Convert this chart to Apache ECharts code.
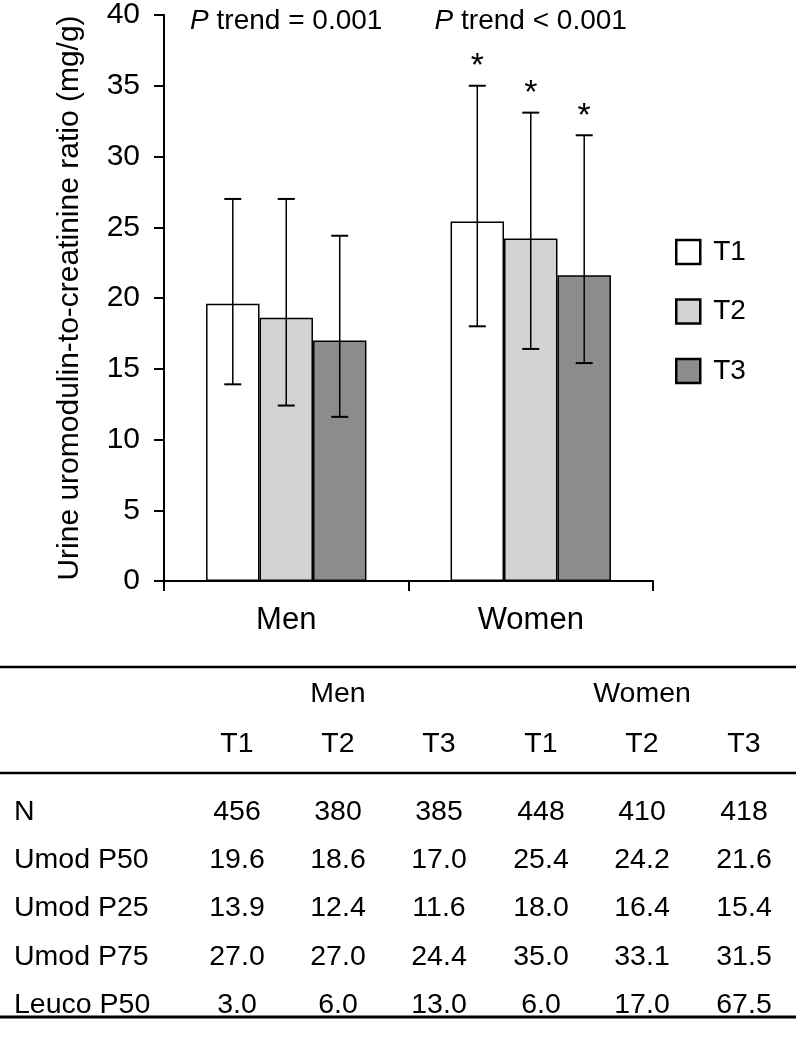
<!DOCTYPE html>
<html><head><meta charset="utf-8">
<script src="https://cdn.jsdelivr.net/npm/echarts@6/dist/echarts.min.js"></script>
<style>html,body{margin:0;padding:0;background:#fff}#c{width:796px;height:1040px}</style>
</head><body><div id="c"></div>
<script>
// ---- data ----
const categories = ['Men', 'Women'];
const tertiles = ['T1', 'T2', 'T3'];
// values per tertile: [Men, Women]
const p50 = [[19.6, 25.4], [18.6, 24.2], [17.0, 21.6]];
const p25 = [[13.9, 18.0], [12.4, 16.4], [11.6, 15.4]];
const p75 = [[27.0, 35.0], [27.0, 33.1], [24.4, 31.5]];
const nCounts = [[456, 448], [380, 410], [385, 418]];
const leucoP50 = [[3.0, 6.0], [6.0, 17.0], [13.0, 67.5]];
const significant = [[false, true], [false, true], [false, true]];
const pTrend = ['= 0.001', '< 0.001'];
const yMin = 0, yMax = 40, yInterval = 5;
const yAxisTitle = 'Urine uromodulin-to-creatinine ratio (mg/g)';
const tableRowLabels = ['N', 'Umod P50', 'Umod P25', 'Umod P75', 'Leuco P50'];
const tableRowData = [nCounts, p50, p25, p75, leucoP50];
const tableRowDecimals = [0, 1, 1, 1, 1];

// ---- style ----
const FONT = '"Liberation Sans", Arial, sans-serif';
const TFONT = '"Liberation Sans", Arial, sans-serif';
const barColors = ['#ffffff', '#d3d3d3', '#8c8c8c'];
const GAP = 0.344;

const chart = echarts.init(document.getElementById('c'), null, {renderer: 'canvas'});

const barSeries = tertiles.map((t, i) => ({
  name: t, type: 'bar', data: p50[i],
  barGap: '0%', barCategoryGap: (GAP * 100) + '%',
  itemStyle: {color: barColors[i], borderColor: '#000', borderWidth: 1.5},
  z: 2
}));

const errData = [];
tertiles.forEach((t, ti) => categories.forEach((c, ci) => {
  errData.push([ci, ti, p25[ti][ci], p75[ti][ci], significant[ti][ci] ? 1 : 0]);
}));

const errSeries = {
  type: 'custom', name: 'err', z: 5, silent: true,
  encode: {x: 0, y: [2, 3]},
  data: errData,
  renderItem: function (params, api) {
    const ci = api.value(0), ti = api.value(1);
    const lo = api.coord([ci, api.value(2)]);
    const hi = api.coord([ci, api.value(3)]);
    const band = api.size([1, 0])[0];
    const groupW = band * (1 - GAP);
    const bw = groupW / 3;
    const x = lo[0] - groupW / 2 + bw * (ti + 0.5);
    const cap = 8.5;
    const children = [
      {type: 'line', shape: {x1: x, y1: lo[1], x2: x, y2: hi[1]}, style: {stroke: '#000', lineWidth: 1.5}},
      {type: 'line', shape: {x1: x - cap, y1: hi[1], x2: x + cap, y2: hi[1]}, style: {stroke: '#000', lineWidth: 2}},
      {type: 'line', shape: {x1: x - cap, y1: lo[1], x2: x + cap, y2: lo[1]}, style: {stroke: '#000', lineWidth: 2}}
    ];
    if (api.value(4)) {
      children.push({type: 'text', x: x, y: hi[1] - 19,
        style: {text: '*', fontSize: 34, fontFamily: FONT, fill: '#000', align: 'center', verticalAlign: 'middle'}});
    }
    return {type: 'group', children: children};
  }
};

const pSeries = {
  type: 'custom', name: 'ptrend', silent: true, z: 5,
  encode: {x: 0, y: 1},
  data: categories.map((c, i) => [i, yMax]),
  renderItem: function (params, api) {
    const p = api.coord([api.value(0), api.value(1)]);
    return {type: 'text', x: p[0], y: p[1] + 6,
      style: {text: '{i|P} trend ' + pTrend[params.dataIndex], fontSize: 28, fontFamily: FONT, fill: '#000',
        align: 'center', verticalAlign: 'middle',
        rich: {i: {fontStyle: 'italic', fontSize: 28, fontFamily: FONT}}}};
  }
};

// ---- table graphic ----
const W = 796;
const line1Y = 667, line2Y = 773, line3Y = 1017;
const groupHeaderY = 694, tHeaderY = 744, rowY0 = 812, rowStep = 48.3;
const colX = [237, 338, 439, 541, 642, 744];
const groupX = [338, 642];
const labelX = 14;
const TS = 28.5;
const graphics = [];
[[line1Y, 2.5], [line2Y, 2.5], [line3Y, 3]].forEach(([y, w]) => graphics.push({
  type: 'line', shape: {x1: 0, y1: y, x2: W, y2: y}, style: {stroke: '#000', lineWidth: w}
}));
function txt(x, y, s, align) {
  graphics.push({type: 'text', x: x, y: y,
    style: {text: s, fontSize: TS, fontFamily: TFONT, fill: '#000', align: align || 'center', verticalAlign: 'middle'}});
}
categories.forEach((c, ci) => txt(groupX[ci], groupHeaderY, c));
categories.forEach((c, ci) => tertiles.forEach((t, ti) => txt(colX[ci * 3 + ti], tHeaderY, t)));
tableRowLabels.forEach((lab, r) => {
  const y = rowY0 + r * rowStep;
  txt(labelX, y, lab, 'left');
  categories.forEach((c, ci) => tertiles.forEach((t, ti) => {
    txt(colX[ci * 3 + ti], y, tableRowData[r][ti][ci].toFixed(tableRowDecimals[r]));
  }));
});

chart.setOption({
  animation: false,
  backgroundColor: '#fff',
  textStyle: {fontFamily: FONT, color: '#000'},
  grid: {left: 164, right: 143, top: 11, bottom: 459, containLabel: false},
  legend: {
    orient: 'vertical', left: 670, top: 233,
    data: tertiles, icon: 'rect', itemWidth: 24, itemHeight: 24, itemGap: 31.5,
    itemStyle: {borderColor: '#000', borderWidth: 2.5},
    textStyle: {fontSize: 28, fontFamily: FONT, color: '#000', padding: [0, 0, 0, 8]}
  },
  xAxis: {
    type: 'category', data: categories,
    axisLine: {lineStyle: {color: '#000', width: 2}},
    axisTick: {show: true, length: 10, lineStyle: {color: '#000', width: 2}},
    axisLabel: {fontSize: 31, color: '#000', margin: 24, fontFamily: FONT}
  },
  yAxis: {
    type: 'value', min: yMin, max: yMax, interval: yInterval,
    name: yAxisTitle, nameLocation: 'middle', nameRotate: 90, nameGap: 79,
    nameTextStyle: {fontSize: 30, color: '#000', fontFamily: FONT},
    splitLine: {show: false},
    axisLine: {show: true, lineStyle: {color: '#000', width: 2}},
    axisTick: {show: true, length: 10, lineStyle: {color: '#000', width: 2}},
    axisLabel: {fontSize: 30, color: '#000', margin: 24, fontFamily: FONT}
  },
  series: barSeries.concat([errSeries, pSeries]),
  graphic: graphics
});
</script></body></html>
